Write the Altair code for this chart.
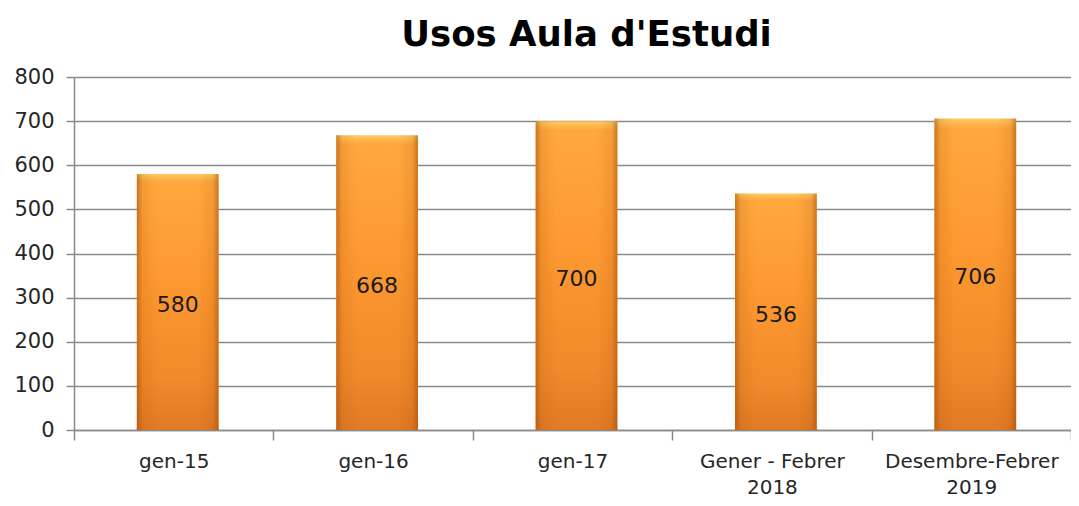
import altair as alt
import pandas as pd

categories = ["gen-15", "gen-16", "gen-17", "Gener - Febrer\n2018", "Desembre-Febrer\n2019"]
values = [580, 668, 700, 536, 706]

df = pd.DataFrame({"cat": categories, "val": values})
df["half"] = df["val"] / 2

AX = "#8a8a8a"
FONT = "DejaVu Sans"

xenc = alt.X(
    "cat:N", sort=categories, title=None,
    scale=alt.Scale(paddingInner=0, paddingOuter=0),
    axis=alt.Axis(
        labelAngle=0, labelExpr="split(datum.label, '\\n')",
        labelFont=FONT, labelFontSize=20, labelColor="#262626",
        labelLineHeight=26, labelPadding=11,
        domainColor=AX, domainWidth=1.5, tickColor=AX, tickWidth=1.5,
        tickSize=10, tickBand="extent", grid=False,
    ),
)
yenc = alt.Y(
    "val:Q", title=None,
    scale=alt.Scale(domain=[0, 800], nice=False),
    axis=alt.Axis(
        values=list(range(0, 801, 100)),
        labelFont=FONT, labelFontSize=21, labelColor="#262626", labelPadding=12,
        domainColor=AX, domainWidth=1.5, tickColor=AX, tickWidth=1.5, tickSize=8,
        gridColor=AX, gridWidth=1.5,
    ),
)

vgrad = alt.Gradient(
    gradient="linear", x1=0, x2=0, y1=0, y2=1,
    stops=[
        alt.GradientStop(color="#FFCB62", offset=0),
        alt.GradientStop(color="#FFA83E", offset=0.03),
        alt.GradientStop(color="#FD9930", offset=0.4),
        alt.GradientStop(color="#F08A2A", offset=0.8),
        alt.GradientStop(color="#E07A25", offset=1),
    ],
)
hgrad = alt.Gradient(
    gradient="linear", x1=0, x2=1, y1=0, y2=0,
    stops=[
        alt.GradientStop(color="rgba(150,65,0,0.5)", offset=0),
        alt.GradientStop(color="rgba(150,65,0,0.12)", offset=0.07),
        alt.GradientStop(color="rgba(150,65,0,0.0)", offset=0.25),
        alt.GradientStop(color="rgba(150,65,0,0.0)", offset=0.75),
        alt.GradientStop(color="rgba(150,65,0,0.12)", offset=0.93),
        alt.GradientStop(color="rgba(150,65,0,0.5)", offset=1),
    ],
)

BW = alt.RelativeBandSize(0.41)
SHIFT = 4
base = alt.Chart(df)
bars = base.mark_bar(color=vgrad, width=BW, xOffset=SHIFT).encode(x=xenc, y=yenc)
shade = base.mark_bar(color=hgrad, width=BW, xOffset=SHIFT).encode(
    x=alt.X("cat:N", sort=categories), y="val:Q"
)
labels = base.mark_text(
    font=FONT, fontSize=22, color="#1a1a1a", baseline="middle", dx=SHIFT, dy=3
).encode(x=alt.X("cat:N", sort=categories), y="half:Q", text="val:Q")

chart = (
    alt.layer(bars, shade, labels)
    .properties(
        width=997, height=353,
        title=alt.TitleParams(
            "Usos Aula d'Estudi", font=FONT, fontSize=35.5, fontWeight="bold",
            color="#000000", anchor="middle", frame="group", dx=14, offset=13,
        ),
        autosize=alt.AutoSizeParams(type="none"),
        padding={"left": 66, "top": 69, "right": 0, "bottom": 68},
        background="white",
    )
    .configure_view(stroke=None)
)

chart.save("out.html", embed_options={"renderer": "svg", "actions": False})
